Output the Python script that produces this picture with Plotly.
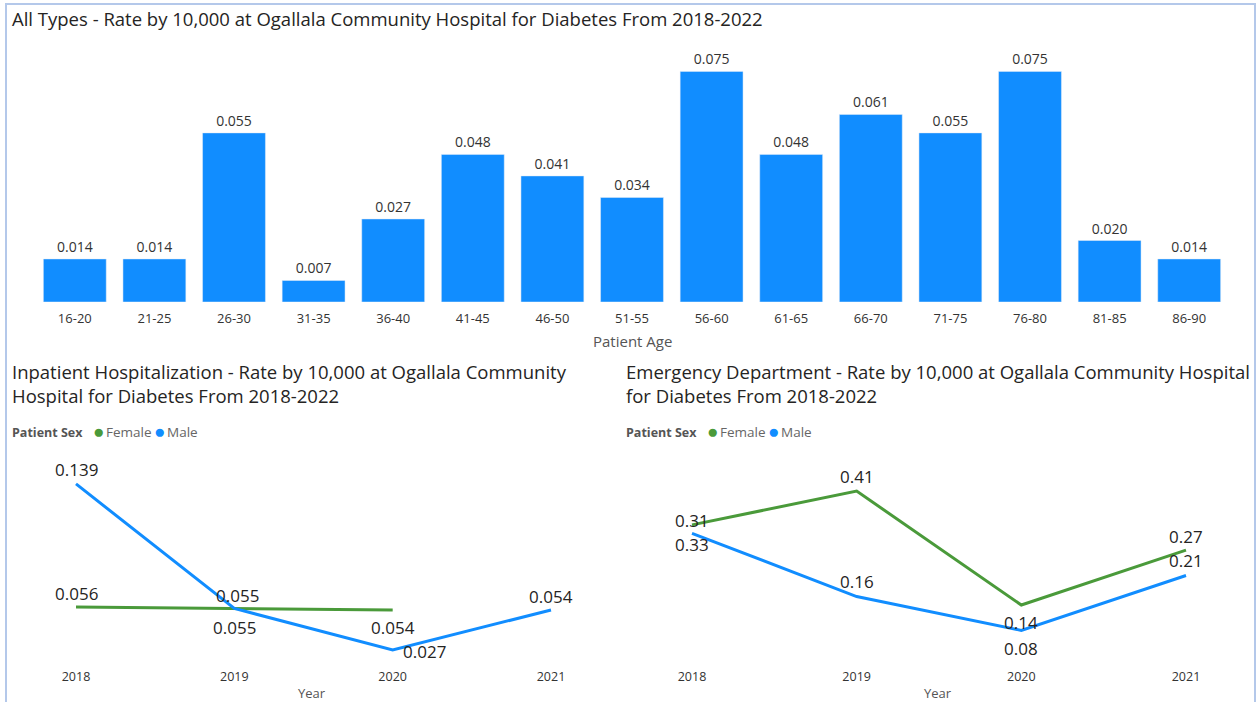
import plotly.graph_objects as go

# ---------------- data ----------------
age_groups = ["16-20", "21-25", "26-30", "31-35", "36-40", "41-45", "46-50", "51-55",
              "56-60", "61-65", "66-70", "71-75", "76-80", "81-85", "86-90"]
all_types_rate = [0.014, 0.014, 0.055, 0.007, 0.027, 0.048, 0.041, 0.034,
                  0.075, 0.048, 0.061, 0.055, 0.075, 0.020, 0.014]

years = [2018, 2019, 2020, 2021]
inpatient_female = [0.056, 0.055, 0.054, None]
inpatient_male = [0.139, 0.055, 0.027, 0.054]
ed_female = [0.33, 0.41, 0.14, 0.27]
ed_male = [0.31, 0.16, 0.08, 0.21]

sex_labels = ["Female", "Male"]
legend_title = "Patient Sex"

title_all = "All Types - Rate by 10,000 at Ogallala Community Hospital for Diabetes From 2018-2022"
title_inp = "Inpatient Hospitalization - Rate by 10,000 at Ogallala Community<br>Hospital for Diabetes From 2018-2022"
title_ed = "Emergency Department - Rate by 10,000 at Ogallala Community Hospital<br>for Diabetes From 2018-2022"

# ---------------- style ----------------
W, H = 1257, 702
FONT = "Open Sans"
BLUE = "#118DFF"
GREEN = "#4A9A3A"
TXT = "#252423"


def px_x(x):
    return x / W


def px_y(y):
    return 1 - y / H


fig = go.Figure()

# Bar chart
fig.add_trace(go.Bar(
    x=age_groups, y=all_types_rate, marker_color=BLUE,
    texttemplate="%{y:.3f}", textposition="outside", cliponaxis=False,
    textfont=dict(family=FONT, size=14, color="#333333"),
    xaxis="x", yaxis="y", showlegend=False,
))

# Line charts
fig.add_trace(go.Scatter(x=years, y=inpatient_female, mode="lines",
                         line=dict(color=GREEN, width=3), xaxis="x2", yaxis="y2",
                         showlegend=False))
fig.add_trace(go.Scatter(x=years, y=inpatient_male, mode="lines",
                         line=dict(color=BLUE, width=3), xaxis="x2", yaxis="y2",
                         showlegend=False))
fig.add_trace(go.Scatter(x=years, y=ed_female, mode="lines",
                         line=dict(color=GREEN, width=3), xaxis="x3", yaxis="y3",
                         showlegend=False))
fig.add_trace(go.Scatter(x=years, y=ed_male, mode="lines",
                         line=dict(color=BLUE, width=3), xaxis="x3", yaxis="y3",
                         showlegend=False))

# axis geometry (pixels)
bar_dom_x = (35, 1229)
bar_dom_y = (56, 302)
line_dom_y = (470, 662)

left_px = (20, 607, 76, 551)     # domain start, end, pixel of first year, last year
right_px = (636, 1244, 692, 1186)


def year_range(p):
    d0, d1, a, b = p
    scale = (b - a) / (years[-1] - years[0])
    return [years[0] - (a - d0) / scale, years[-1] + (d1 - b) / scale]


tickfont = dict(family=FONT, size=13, color="#333333")
yearfont = dict(family=FONT, size=12.5, color="#333333")

fig.update_layout(
    width=W, height=H,
    margin=dict(l=0, r=0, t=0, b=0),
    paper_bgcolor="white", plot_bgcolor="white",
    font=dict(family=FONT, color=TXT),
    bargap=0.21,
    xaxis=dict(domain=[px_x(bar_dom_x[0]), px_x(bar_dom_x[1])], anchor="y",
               showgrid=False, zeroline=False, showline=False,
               ticks="outside", ticklen=4, tickcolor="rgba(0,0,0,0)",
               tickfont=tickfont),
    yaxis=dict(domain=[px_y(bar_dom_y[1]), px_y(bar_dom_y[0])], anchor="x",
               range=[0, 0.08], visible=False),
    xaxis2=dict(domain=[px_x(left_px[0]), px_x(left_px[1])], anchor="y2",
                range=year_range(left_px), tickvals=years,
                showgrid=False, zeroline=False, showline=False,
                ticks="outside", ticklen=3, tickcolor="rgba(0,0,0,0)",
                tickfont=yearfont),
    yaxis2=dict(domain=[px_y(line_dom_y[1]), px_y(line_dom_y[0])], anchor="x2",
                range=[0.0189, 0.1484], visible=False),
    xaxis3=dict(domain=[px_x(right_px[0]), px_x(right_px[1])], anchor="y3",
                range=year_range(right_px), tickvals=years,
                showgrid=False, zeroline=False, showline=False,
                ticks="outside", ticklen=3, tickcolor="rgba(0,0,0,0)",
                tickfont=yearfont),
    yaxis3=dict(domain=[px_y(line_dom_y[1]), px_y(line_dom_y[0])], anchor="x3",
                range=[0.005, 0.46], visible=False),
)

ann = []


def text_ann(x, y, text, size, color=TXT, xanchor="left", yanchor="middle"):
    ann.append(dict(x=px_x(x), y=px_y(y), xref="paper", yref="paper",
                    text=text, showarrow=False, xanchor=xanchor, yanchor=yanchor,
                    align="left", font=dict(family=FONT, size=size, color=color)))


# titles
text_ann(10, 18, title_all, 18.5)
ann.append(dict(x=px_x(10), y=px_y(357), xref="paper", yref="paper", text=title_inp,
                showarrow=False, xanchor="left", yanchor="top", align="left",
                font=dict(family=FONT, size=18.5, color=TXT)))
ann.append(dict(x=px_x(624), y=px_y(357), xref="paper", yref="paper", text=title_ed,
                showarrow=False, xanchor="left", yanchor="top", align="left",
                font=dict(family=FONT, size=18.5, color=TXT)))

# axis titles
text_ann(632, 341, "Patient Age", 15, "#555555", xanchor="center")
text_ann(312, 693, "Year", 13, "#555555", xanchor="center")
text_ann(938, 693, "Year", 13, "#555555", xanchor="center")

# legends (title, dot, item, dot, item)
for x0 in (10, 624):
    text_ann(x0, 432, "<b>%s</b>" % legend_title, 12.5, "#555555")
    text_ann(x0 + 88, 431, "●", 19, GREEN, xanchor="center")
    text_ann(x0 + 94, 432, sex_labels[0], 13.5, "#666666")
    text_ann(x0 + 149, 431, "●", 19, BLUE, xanchor="center")
    text_ann(x0 + 155, 432, sex_labels[1], 13.5, "#666666")

# line data labels: (values, axes, fmt, per-point (xshift, yshift))
label_specs = [
    (inpatient_female, "x2", "y2", "{:.3f}", [(0, 13), (3, 13), (0, -18), None]),
    (inpatient_male, "x2", "y2", "{:.3f}", [(0, 14), (0, -19), (32, -2), (0, 13)]),
    (ed_female, "x3", "y3", "{:.2f}", [(0, -20), (0, 15), (0, -17), (0, 14)]),
    (ed_male, "x3", "y3", "{:.2f}", [(0, 13), (0, 15), (0, -18), (0, 15)]),
]
for vals, xr, yr, fmt, offs in label_specs:
    for yr_val, v, off in zip(years, vals, offs):
        if v is None or off is None:
            continue
        ann.append(dict(x=yr_val, y=v, xref=xr, yref=yr, text=fmt.format(v),
                        showarrow=False, xshift=off[0], yshift=off[1],
                        font=dict(family=FONT, size=17, color=TXT)))

fig.update_layout(annotations=ann)

# frame border
fig.add_shape(type="rect", xref="paper", yref="paper",
              x0=px_x(6), x1=px_x(1255), y0=px_y(710), y1=px_y(4),
              line=dict(color="#B4C8EA", width=2), layer="below")

fig.write_html("out.html", config={"displayModeBar": False},
               post_script="document.body.style.margin='0';document.body.style.overflow='hidden';")
